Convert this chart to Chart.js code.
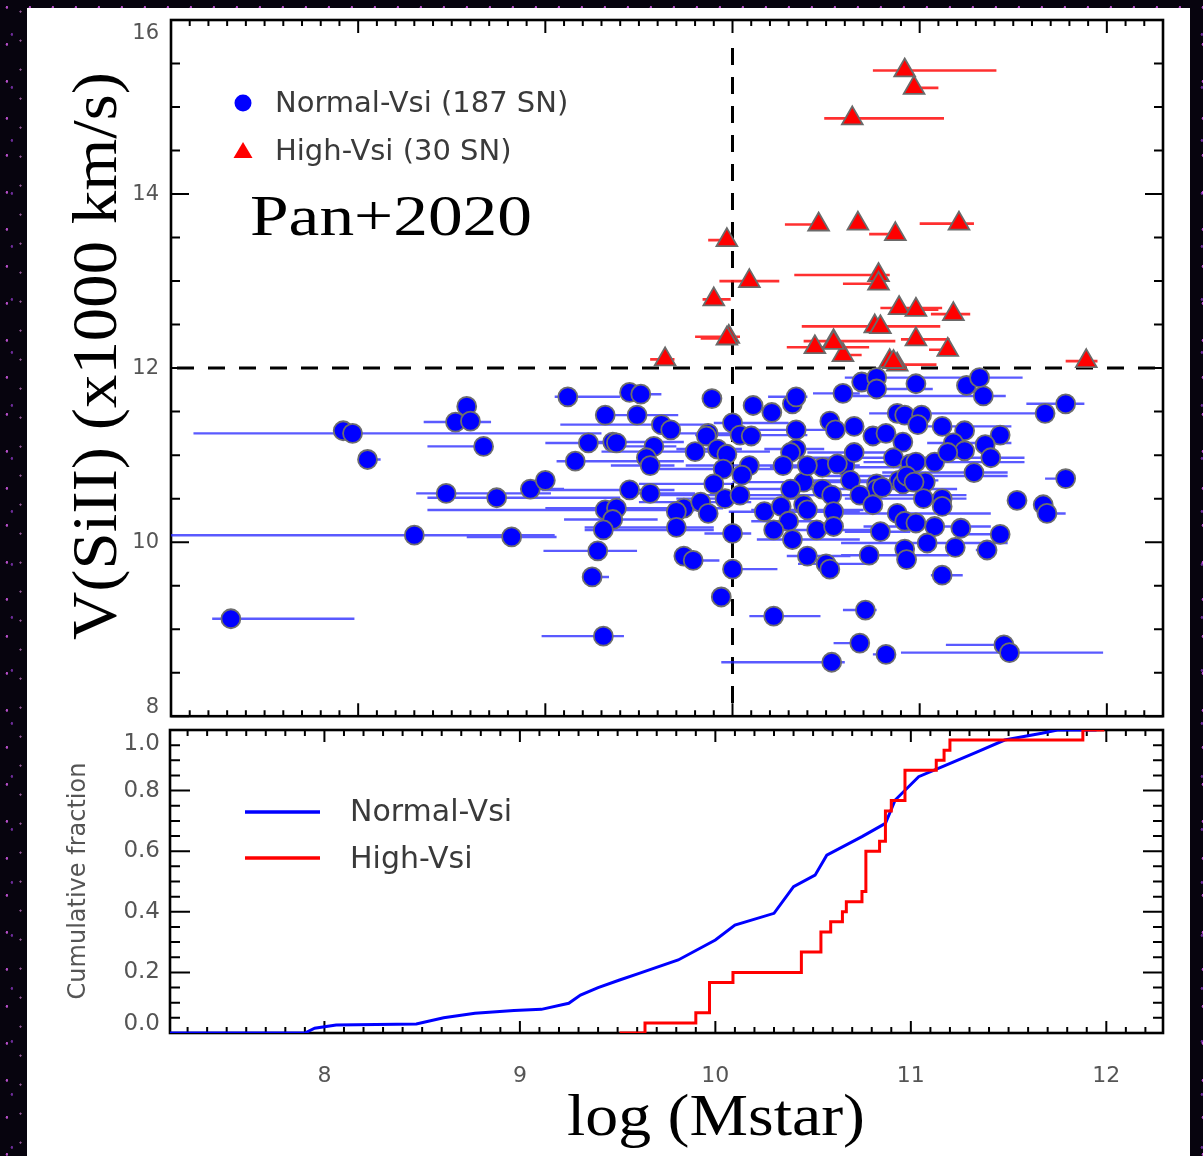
<!DOCTYPE html>
<html>
<head>
<meta charset="utf-8">
<script src="https://cdn.jsdelivr.net/npm/chart.js@4.4.1/dist/chart.umd.min.js"></script>
<style>
  html, body { margin: 0; padding: 0; background: #07040e; }
  #page {
    position: relative; width: 1203px; height: 1156px; overflow: hidden;
    background-color: #07040e;
    background-image:
      radial-gradient(circle at 30% 20%, rgba(210,90,230,.85) 0 1px, transparent 1.6px),
      radial-gradient(circle at 70% 65%, rgba(150,60,210,.7) 0 1px, transparent 1.6px),
      radial-gradient(circle at 50% 40%, rgba(235,140,240,.6) 0 0.8px, transparent 1.4px);
    background-size: 23px 37px, 17px 53px, 41px 29px;
  }
  #panel { position: absolute; left: 27px; top: 8px; width: 1163px; height: 1148px; background: #fff; }
  canvas { position: absolute; left: 0; }
  #top { top: 0; }
  #bot { top: 720px; }
</style>
</head>
<body>
<div id="page">
  <div id="panel"></div>
  <canvas id="top" width="1203" height="730"></canvas>
  <canvas id="bot" width="1203" height="436"></canvas>
</div>
<script>
// ---- data ----
// normal-velocity SNe: log stellar mass, Si II velocity (1000 km/s), mass error bar ends
const normalMass = [
  7.92, 7.97, 8.05, 7.32, 8.30, 8.82, 8.47, 8.74, 8.92, 9.00,
  8.58, 8.52, 8.60, 8.67, 9.12, 9.45, 9.51, 9.32, 9.49, 9.62,
  9.67, 9.23, 9.36, 9.38, 9.58, 9.16, 9.54, 9.56, 9.45, 9.56,
  9.32, 9.38, 9.36, 9.31, 9.28, 9.25, 9.31, 9.80, 9.87, 9.86,
  9.89, 9.92, 9.97, 9.95, 9.90, 9.96, 9.74, 9.70, 9.83, 9.87,
  9.70, 9.74, 9.79, 10.00, 10.00, 10.00, 9.94, 10.04, 10.10, 10.11,
  10.21, 10.32, 10.34, 10.09, 10.05, 10.04, 10.34, 10.34, 10.31, 10.27,
  10.38, 10.31, 10.17, 10.26, 10.30, 10.22, 10.32, 10.38, 10.40, 10.40,
  10.50, 10.52, 10.22, 10.53, 10.59, 10.52, 10.55, 10.65, 10.48, 10.48,
  10.53, 10.54, 10.45, 10.54, 10.60, 10.63, 10.65, 10.69, 10.77, 10.77,
  10.98, 11.25, 11.32, 11.34, 11.78, 11.67, 10.75, 10.82, 10.88, 10.92,
  11.01, 10.99, 11.12, 11.24, 11.43, 10.91, 11.18, 11.24, 11.35, 11.38,
  10.86, 10.95, 10.98, 11.08, 11.15, 11.29, 10.77, 10.77, 10.89, 10.91,
  10.93, 11.03, 11.78, 10.68, 10.75, 11.02, 11.12, 11.12, 10.88, 10.92,
  10.98, 11.08, 11.22, 11.43, 11.52, 11.66, 11.68, 10.79, 11.04, 11.19,
  11.36, 10.73, 10.92, 10.93, 11.12, 10.71, 10.68, 10.82, 11.45, 11.48,
  10.40, 10.56, 10.97, 10.80
];
const normalVsi = [
  11.28, 11.25, 10.95, 9.12, 10.08, 10.06, 10.56, 10.51, 10.61, 10.71,
  11.56, 11.38, 11.39, 11.10, 11.67, 11.72, 11.70, 11.46, 11.46, 11.35,
  11.29, 11.14, 11.15, 11.14, 11.10, 10.93, 10.97, 10.88, 10.60, 10.56,
  10.37, 10.39, 10.26, 10.14, 9.90, 9.60, 8.92, 11.04, 11.25, 11.22,
  11.65, 11.07, 11.01, 10.84, 10.67, 10.50, 10.39, 10.35, 10.46, 10.33,
  10.17, 9.84, 9.79, 11.37, 10.10, 9.69, 9.37, 11.23, 11.22, 11.57,
  11.49, 11.59, 11.67, 10.88, 10.77, 10.54, 11.29, 11.07, 11.03, 10.88,
  10.69, 10.61, 10.35, 10.41, 10.24, 10.14, 10.03, 10.43, 10.37, 9.84,
  9.75, 9.69, 9.15, 8.62, 11.71, 11.39, 11.29, 11.33, 10.86, 10.61,
  10.54, 10.35, 10.14, 10.18, 10.88, 10.71, 11.03, 11.84, 11.89, 11.76,
  11.82, 11.80, 11.89, 11.68, 11.59, 11.48, 11.22, 11.25, 11.48, 11.46,
  11.46, 11.35, 11.33, 11.28, 11.23, 11.15, 11.14, 11.05, 11.12, 10.97,
  10.97, 10.90, 10.92, 10.92, 11.03, 10.80, 10.67, 10.61, 10.71, 10.67,
  10.76, 10.69, 10.73, 10.54, 10.43, 10.50, 10.50, 10.41, 10.33, 10.24,
  10.22, 10.18, 10.16, 10.09, 10.48, 10.43, 10.33, 10.12, 9.99, 9.94,
  9.91, 9.85, 9.92, 9.80, 9.62, 9.22, 8.84, 8.71, 8.82, 8.73,
  10.88, 10.90, 10.69, 10.63
];
const normalMassLo = [
  7.92, 7.12, 8.02, 7.22, 6.90, 8.58, 8.31, 8.37, 8.88, 8.97,
  8.58, 8.35, 8.60, 8.37, 9.05, 9.40, 9.45, 9.31, 9.38, 9.08,
  9.60, 9.00, 9.20, 9.38, 9.40, 9.06, 9.54, 9.35, 8.98, 9.40,
  8.37, 9.00, 9.10, 9.21, 8.99, 9.22, 8.98, 9.30, 9.60, 9.86,
  9.89, 9.70, 9.97, 9.60, 9.50, 9.70, 9.40, 9.70, 9.50, 9.87,
  9.21, 9.74, 9.74, 9.90, 9.85, 10.00, 9.90, 9.80, 10.10, 10.11,
  10.21, 10.32, 10.19, 9.75, 10.05, 9.60, 10.10, 10.17, 10.31, 10.04,
  10.00, 10.04, 9.98, 10.26, 10.10, 10.22, 10.13, 10.38, 10.10, 10.29,
  10.35, 10.52, 10.09, 9.94, 10.43, 10.52, 10.30, 10.65, 10.20, 10.48,
  10.20, 10.54, 10.20, 10.54, 10.60, 10.30, 10.40, 10.69, 10.60, 10.67,
  10.98, 11.25, 11.32, 10.64, 11.57, 11.55, 10.75, 10.82, 10.73, 10.92,
  11.01, 10.99, 11.00, 11.24, 11.43, 10.91, 11.04, 11.24, 11.35, 10.90,
  10.40, 10.95, 10.98, 10.70, 11.15, 10.80, 10.77, 10.45, 10.89, 10.91,
  10.50, 11.03, 11.67, 10.40, 10.75, 11.02, 10.60, 11.12, 10.50, 10.92,
  10.98, 10.70, 11.22, 11.25, 11.52, 11.66, 11.68, 10.60, 10.58, 11.19,
  11.30, 10.58, 10.92, 10.93, 11.06, 10.59, 10.54, 10.75, 11.14, 10.90,
  10.15, 10.56, 10.97, 10.80
];
const normalMassHi = [
  7.92, 9.30, 8.12, 7.98, 9.05, 9.06, 9.03, 9.40, 9.10, 9.05,
  8.58, 8.71, 8.64, 8.67, 9.40, 9.56, 9.62, 9.42, 9.71, 9.87,
  9.70, 9.40, 9.74, 9.38, 9.70, 9.74, 9.54, 9.69, 9.69, 9.80,
  9.90, 9.75, 9.60, 9.90, 9.49, 9.34, 9.42, 10.20, 10.10, 9.86,
  9.89, 10.05, 9.97, 10.30, 10.00, 10.40, 9.95, 9.70, 10.10, 9.87,
  9.90, 9.74, 9.93, 10.30, 10.10, 10.24, 9.98, 10.40, 10.10, 10.11,
  10.21, 10.32, 10.40, 10.50, 10.05, 10.30, 10.55, 10.49, 10.31, 10.68,
  10.80, 10.68, 10.68, 10.26, 10.47, 10.22, 10.68, 10.38, 10.70, 10.63,
  10.75, 10.52, 10.47, 10.60, 10.68, 10.52, 10.70, 10.65, 10.90, 10.48,
  11.00, 10.54, 10.80, 10.54, 10.60, 11.10, 10.90, 10.69, 11.55, 11.07,
  10.98, 11.25, 11.32, 11.46, 11.88, 11.67, 10.75, 10.82, 11.55, 10.92,
  11.01, 10.99, 11.49, 11.24, 11.43, 10.91, 11.49, 11.24, 11.35, 11.56,
  11.30, 10.95, 10.98, 11.56, 11.15, 11.47, 10.77, 11.20, 10.89, 10.91,
  11.47, 11.03, 11.82, 11.25, 10.75, 11.02, 11.25, 11.12, 11.38, 10.92,
  10.98, 11.38, 11.22, 11.43, 11.52, 11.66, 11.78, 10.95, 11.47, 11.19,
  11.40, 11.16, 10.92, 10.93, 11.23, 10.77, 10.72, 10.82, 11.48, 11.98,
  10.65, 10.56, 10.97, 10.80
];

// high-velocity SNe
const highMass = [10.92, 10.97, 10.64, 10.46, 10.67, 10.87, 11.21, 9.97, 10.09, 10.78,
  10.78, 9.90, 9.98, 9.97, 9.64, 10.89, 10.98, 11.18, 10.76, 10.79,
  10.44, 10.54, 10.59, 10.98, 11.15, 10.84, 10.88, 11.89, 10.86, 10.54];
const highVsi = [15.42, 15.22, 14.87, 13.65, 13.66, 13.54, 13.66, 13.47, 13.00, 13.07,
  12.97, 12.79, 12.36, 12.34, 12.10, 12.69, 12.67, 12.62, 12.48, 12.47,
  12.24, 12.31, 12.15, 12.33, 12.21, 12.08, 12.04, 12.08, 12.07, 12.29];
const highMassLo = [10.75, 10.94, 10.49, 10.28, 10.67, 10.73, 11.00, 9.87, 9.93, 10.33,
  10.59, 9.84, 9.80, 9.83, 9.56, 10.79, 10.90, 11.06, 10.37, 10.79,
  10.29, 10.38, 10.59, 10.90, 11.05, 10.84, 10.88, 11.78, 10.86, 10.54];
const highMassHi = [11.41, 11.10, 11.13, 10.46, 10.67, 10.87, 11.29, 9.97, 10.25, 10.84,
  10.81, 9.99, 10.04, 10.00, 9.69, 11.12, 11.10, 11.27, 11.11, 10.79,
  10.73, 10.87, 10.69, 11.16, 11.15, 10.84, 11.09, 11.95, 10.86, 10.54];

// cumulative fractions (lower panel)
const cdfNormalMass = [7.21, 7.90, 7.95, 8.06, 8.47, 8.61, 8.77, 8.97, 9.11, 9.25, 9.31, 9.40, 9.51,
  9.61, 9.81, 10.00, 10.10, 10.30, 10.40, 10.51, 10.57, 10.75, 10.87, 10.92, 11.04, 11.18,
  11.34, 11.48, 11.67, 11.75, 11.95];
const cdfNormalFrac = [0, 0, 0.016, 0.026, 0.03, 0.05, 0.065, 0.074, 0.078, 0.098, 0.125, 0.15, 0.175,
  0.197, 0.241, 0.307, 0.356, 0.395, 0.483, 0.521, 0.587, 0.648, 0.692, 0.769, 0.846, 0.884,
  0.928, 0.967, 0.989, 1.0, 1.0];
const cdfHighMass = [9.51, 9.64, 9.90, 9.97, 10.09, 10.44, 10.54, 10.59, 10.65, 10.67, 10.75,
  10.77, 10.84, 10.87, 10.90, 10.97, 11.13, 11.17, 11.20, 11.88, 11.99];
const cdfHighFrac = [0, 0.033, 0.067, 0.167, 0.2, 0.267, 0.333, 0.367, 0.4, 0.433, 0.467,
  0.6, 0.633, 0.733, 0.767, 0.867, 0.9, 0.933, 0.967, 1.0, 1.0];

// tick labels
const velocityTicks = [8, 10, 12, 14, 16];
const massTicks = [8, 9, 10, 11, 12];
const fracTicks = [0, 0.2, 0.4, 0.6, 0.8, 1.0];

const SANS = "'DejaVu Sans', sans-serif";
const SERIF = "'Liberation Serif', serif";
const TXT = "#3a3a3a";
const TICK_TXT = "#555";

// text stretched along its own direction to a given length
function fitText(ctx, text, x, y, font, width, rot, align) {
  ctx.save();
  ctx.font = font;
  const w = ctx.measureText(text).width;
  ctx.translate(x, y);
  if (rot) ctx.rotate(rot);
  ctx.scale(width / w, 1);
  ctx.textAlign = align || "center";
  ctx.textBaseline = "alphabetic";
  ctx.fillText(text, 0, 0);
  ctx.restore();
}

// IDL-style box: frame, inward major/minor ticks on all sides, tick labels
function drawAxes(chart, o) {
  const { ctx, chartArea: a } = chart;
  const x = chart.scales.x, y = chart.scales.y;
  ctx.save();
  ctx.strokeStyle = "#000";
  ctx.lineWidth = 2.6;
  ctx.strokeRect(a.left, a.top, a.right - a.left, a.bottom - a.top);
  ctx.lineWidth = 2;
  ctx.beginPath();
  let per = Math.round(o.xMajor / o.xMinor);
  for (let n = Math.ceil(x.min / o.xMinor - 1e-6); n <= Math.floor(x.max / o.xMinor + 1e-6); n++) {
    const px = x.getPixelForValue(n * o.xMinor);
    const len = n % per === 0 ? o.xLen[0] : o.xLen[1];
    ctx.moveTo(px, a.bottom); ctx.lineTo(px, a.bottom - len);
    ctx.moveTo(px, a.top); ctx.lineTo(px, a.top + len);
  }
  per = Math.round(o.yMajor / o.yMinor);
  for (let n = Math.ceil(y.min / o.yMinor - 1e-6); n <= Math.floor(y.max / o.yMinor + 1e-6); n++) {
    const py = y.getPixelForValue(n * o.yMinor);
    const len = n % per === 0 ? o.yLen[0] : o.yLen[1];
    ctx.moveTo(a.left, py); ctx.lineTo(a.left + len, py);
    ctx.moveTo(a.right, py); ctx.lineTo(a.right - len, py);
  }
  ctx.stroke();

  ctx.fillStyle = TICK_TXT;
  ctx.font = o.yFont;
  ctx.textAlign = "right";
  ctx.textBaseline = "middle";
  y.ticks.forEach(t => {
    let py = y.getPixelForValue(t.value);
    py = Math.min(Math.max(py, a.top + o.clamp[0]), a.bottom - o.clamp[1]);
    ctx.fillText(o.yFmt(t.value), a.left - o.yPad, py);
  });
  if (o.xFont) {
    ctx.font = o.xFont;
    ctx.textAlign = "center";
    x.ticks.forEach(t => ctx.fillText(String(t.value), x.getPixelForValue(t.value), a.bottom + o.xPad));
  }
  ctx.restore();
}

const topDecor = {
  id: "topDecor",
  beforeDatasetsDraw(chart) {
    const { ctx, chartArea: a, scales: { x, y } } = chart;
    drawAxes(chart, { xMajor: 1, xMinor: 0.1, xLen: [13, 6], yMajor: 2, yMinor: 0.5, yLen: [18, 9],
      yFont: "21px " + SANS, yPad: 12, clamp: [14, 9], yFmt: v => String(v) });
    ctx.save();
    ctx.beginPath();
    ctx.rect(a.left, a.top, a.right - a.left, a.bottom - a.top);
    ctx.clip();
    // dashed reference lines at 12,000 km/s and log M = 10
    ctx.strokeStyle = "#000";
    ctx.lineWidth = 3;
    ctx.setLineDash([17, 14]);
    ctx.beginPath();
    const y12 = y.getPixelForValue(12);
    ctx.moveTo(a.left + 6, y12); ctx.lineTo(a.right, y12);
    ctx.stroke();
    ctx.setLineDash([17, 12]);
    ctx.lineDashOffset = -10;
    ctx.beginPath();
    const x10 = x.getPixelForValue(10);
    ctx.moveTo(x10, a.top + 18); ctx.lineTo(x10, a.bottom);
    ctx.stroke();
    ctx.setLineDash([]);
    // horizontal error bars
    chart.data.datasets.forEach(ds => {
      ctx.strokeStyle = ds.barColor;
      ctx.lineWidth = ds.barWidth;
      ctx.beginPath();
      ds.data.forEach((p, i) => {
        if (ds.xLo[i] === ds.xHi[i]) return;
        const py = y.getPixelForValue(p.y);
        ctx.moveTo(x.getPixelForValue(ds.xLo[i]), py);
        ctx.lineTo(x.getPixelForValue(ds.xHi[i]), py);
      });
      ctx.stroke();
    });
    ctx.restore();
  },
  afterDraw(chart) {
    const { ctx } = chart;
    ctx.save();
    // legend
    ctx.fillStyle = "#0000ff";
    ctx.beginPath(); ctx.arc(243, 103, 8.5, 0, Math.PI * 2); ctx.fill();
    ctx.fillStyle = "#ff0000";
    ctx.beginPath(); ctx.moveTo(243, 142); ctx.lineTo(252.5, 158); ctx.lineTo(233.5, 158); ctx.closePath(); ctx.fill();
    ctx.fillStyle = TXT;
    ctx.font = "29px " + SANS;
    ctx.textAlign = "left";
    ctx.textBaseline = "middle";
    ctx.fillText("Normal-Vsi (187 SN)", 275, 104);
    ctx.fillText("High-Vsi (30 SN)", 275, 152);
    // serif labels
    ctx.fillStyle = "#000";
    fitText(ctx, "Pan+2020", 250, 235, "56px " + SERIF, 282, 0, "left");
    fitText(ctx, "V(SiII) (x1000 km/s)", 116, 356, "64px " + SERIF, 568, -Math.PI / 2);
    ctx.restore();
  }
};

const botDecor = {
  id: "botDecor",
  beforeDatasetsDraw(chart) {
    drawAxes(chart, { xMajor: 1, xMinor: 0.1, xLen: [12, 6], yMajor: 0.2, yMinor: 0.05, yLen: [20, 10],
      yFont: "23px " + SANS, yPad: 10, clamp: [14, 9], yFmt: v => v.toFixed(1),
      xFont: "22px " + SANS, xPad: 43 });
  },
  afterDraw(chart) {
    const { ctx } = chart;
    ctx.save();
    ctx.lineWidth = 3.5;
    ctx.strokeStyle = "#0000ff";
    ctx.beginPath(); ctx.moveTo(245, 92); ctx.lineTo(320, 92); ctx.stroke();
    ctx.strokeStyle = "#ff0000";
    ctx.beginPath(); ctx.moveTo(245, 138); ctx.lineTo(320, 138); ctx.stroke();
    ctx.fillStyle = TXT;
    ctx.font = "30px " + SANS;
    ctx.textAlign = "left";
    ctx.textBaseline = "middle";
    ctx.fillText("Normal-Vsi", 350, 93);
    ctx.fillText("High-Vsi", 350, 140);
    ctx.fillStyle = TICK_TXT;
    ctx.translate(79, 161);
    ctx.rotate(-Math.PI / 2);
    ctx.textAlign = "center";
    ctx.font = "24px " + SANS;
    ctx.fillText("Cumulative fraction", 0, 0);
    ctx.setTransform(1, 0, 0, 1, 0, 0);
    ctx.fillStyle = "#000";
    fitText(ctx, "log (Mstar)", 716, 415, "60px " + SERIF, 298, 0);
    ctx.restore();
  }
};

const hidden = { grid: { display: false }, border: { display: false }, ticks: { display: false } };

new Chart(document.getElementById("top"), {
  type: "scatter",
  data: {
    datasets: [
      { label: "High-Vsi (30 SN)", data: highMass.map((m, i) => ({ x: m, y: highVsi[i] })),
        xLo: highMassLo, xHi: highMassHi, barColor: "rgba(255,25,25,0.9)", barWidth: 2.6,
        pointStyle: "triangle", pointRadius: 12, pointBackgroundColor: "#ff0000",
        pointBorderColor: "#6a6a6a", pointBorderWidth: 1.8, order: 0 },
      { label: "Normal-Vsi (187 SN)", data: normalMass.map((m, i) => ({ x: m, y: normalVsi[i] })),
        xLo: normalMassLo, xHi: normalMassHi, barColor: "rgba(35,35,255,0.75)", barWidth: 2.4,
        pointStyle: "circle", pointRadius: 9.5, pointBackgroundColor: "#0000ff",
        pointBorderColor: "#6e6e6e", pointBorderWidth: 1.8, order: 1 }
    ]
  },
  options: {
    responsive: false, animation: false, events: [],
    layout: { padding: { top: 20, right: 40, bottom: 3, left: 0 } },
    plugins: { legend: { display: false }, tooltip: { enabled: false } },
    scales: {
      x: { type: "linear", min: 7.0, max: 12.3, ...hidden, afterFit: s => { s.height = 0; } },
      y: { type: "linear", min: 8, max: 16, ...hidden, afterFit: s => { s.width = 171; },
        afterBuildTicks: s => { s.ticks = velocityTicks.map(v => ({ value: v })); } }
    }
  },
  plugins: [topDecor]
});

new Chart(document.getElementById("bot"), {
  type: "line",
  data: {
    datasets: [
      { label: "High-Vsi", data: cdfHighMass.map((m, i) => ({ x: m, y: cdfHighFrac[i] })),
        borderColor: "#ff0000", borderWidth: 3, pointRadius: 0, stepped: "before", order: 0 },
      { label: "Normal-Vsi", data: cdfNormalMass.map((m, i) => ({ x: m, y: cdfNormalFrac[i] })),
        borderColor: "#0000ff", borderWidth: 3, pointRadius: 0, tension: 0, order: 1 }
    ]
  },
  options: {
    responsive: false, animation: false, events: [],
    layout: { padding: { top: 10, right: 40, bottom: 0, left: 0 } },
    plugins: { legend: { display: false }, tooltip: { enabled: false } },
    scales: {
      x: { type: "linear", min: 7.21, max: 12.29, ...hidden, afterFit: s => { s.height = 123; },
        afterBuildTicks: s => { s.ticks = massTicks.map(v => ({ value: v })); } },
      y: { type: "linear", min: 0, max: 1, ...hidden, afterFit: s => { s.width = 170; },
        afterBuildTicks: s => { s.ticks = fracTicks.map(v => ({ value: v })); } }
    }
  },
  plugins: [botDecor]
});
</script>
</body>
</html>
